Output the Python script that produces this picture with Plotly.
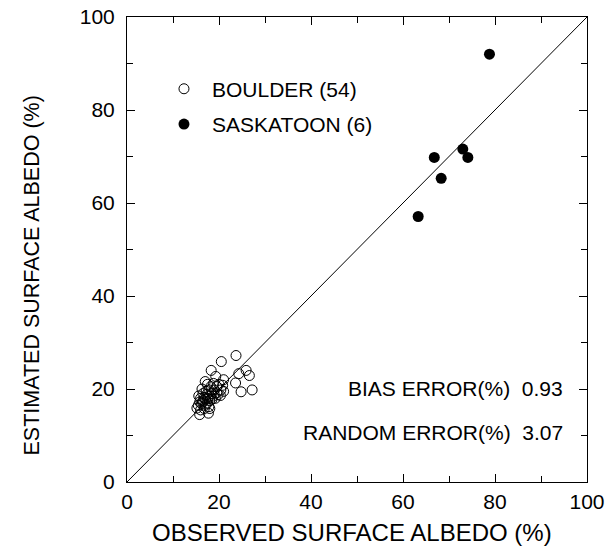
import plotly.graph_objects as go

# Boulder (54) observed vs estimated surface albedo (%)
boulder_obs = [23.7, 20.5, 18.3, 19.3, 21.0, 24.3, 25.9, 26.6, 23.6, 24.8, 27.2, 20.4, 17.0, 20.3, 17.7, 15.8, 15.2,
               15.5, 15.8, 16.0, 16.2, 16.5, 16.5, 16.8, 17.0, 17.0, 17.2, 17.3, 17.5, 17.5, 17.8, 17.8, 18.0, 18.0,
               18.2, 18.5, 18.5, 18.8, 19.0, 19.2, 19.5, 19.8, 15.6, 16.0, 16.3, 16.8, 17.5, 18.0, 18.8, 19.5, 20.0,
               21.0, 20.8, 16.4]
boulder_est = [27.2, 25.9, 24.0, 22.7, 22.0, 23.3, 24.0, 22.9, 21.3, 19.4, 19.8, 19.8, 21.6, 18.6, 14.8, 14.5, 15.9,
               16.5, 17.2, 18.0, 16.8, 17.5, 19.0, 18.2, 16.5, 17.8, 19.5, 18.8, 17.0, 18.0, 16.2, 19.8, 18.5, 17.5,
               20.5, 19.0, 17.8, 18.5, 19.8, 18.0, 19.2, 18.8, 18.5, 15.5, 20.0, 15.8, 21.0, 15.8, 21.2, 20.5, 21.0,
               19.5, 20.8, 17.2]

# Saskatoon (6)
sask_obs = [78.8, 66.8, 73.0, 74.1, 68.3, 63.3]
sask_est = [92.0, 69.8, 71.6, 69.8, 65.3, 57.1]

# 1:1 line
line_xy = [0, 100]

bias_error = 0.93
random_error = 3.07

FONT = "Liberation Sans, Arial, sans-serif"

fig = go.Figure()
fig.add_trace(go.Scatter(x=line_xy, y=line_xy, mode="lines", line=dict(color="black", width=1),
                         showlegend=False, hoverinfo="skip"))
fig.add_trace(go.Scatter(x=boulder_obs, y=boulder_est, mode="markers", name="BOULDER (54)",
                         legendgroup="b",
                         marker=dict(symbol="circle-open", size=10, color="black", line=dict(width=1))))
fig.add_trace(go.Scatter(x=sask_obs, y=sask_est, mode="markers", name="SASKATOON (6)",
                         legendgroup="s",
                         marker=dict(symbol="circle", size=11, color="black")))

axis_common = dict(range=[0, 100], dtick=20, ticks="inside", ticklen=8, tickwidth=1, tickcolor="black",
                   showline=True, linecolor="black", linewidth=1, mirror="allticks", showgrid=False,
                   zeroline=False, automargin=False, tickfont=dict(size=21, color="black", family=FONT),
                   minor=dict(dtick=10, ticks="inside", ticklen=6, tickcolor="black", showgrid=False))
fig.update_xaxes(**axis_common, ticklabelstandoff=1)
fig.update_yaxes(**axis_common, ticklabelstandoff=7)

fig.update_layout(
    width=615, height=560,
    margin=dict(l=127, r=28, t=17, b=78),
    paper_bgcolor="white", plot_bgcolor="white",
    font=dict(family=FONT, color="black"),
    legend=dict(x=0.063, y=0.889, xanchor="left", yanchor="top", bgcolor="rgba(0,0,0,0)",
                font=dict(size=21, family=FONT), tracegroupgap=5, itemwidth=46),
    annotations=[
        dict(text="ESTIMATED SURFACE ALBEDO (%)", textangle=-90, xref="paper", yref="paper",
             x=-0.236, y=0.445, showarrow=False, font=dict(size=21.5, family=FONT)),
        dict(text="OBSERVED SURFACE ALBEDO (%)", xref="paper", yref="paper",
             x=0.49, y=-0.142, showarrow=False, font=dict(size=24, family=FONT)),
        dict(text=f"BIAS ERROR(%)  {bias_error:.2f}", xref="paper", yref="paper",
             x=0.952, y=0.172, xanchor="right", showarrow=False, font=dict(size=21, family=FONT)),
        dict(text=f"RANDOM ERROR(%)  {random_error:.2f}", xref="paper", yref="paper",
             x=0.952, y=0.077, xanchor="right", showarrow=False, font=dict(size=21, family=FONT)),
    ],
)

fig.write_html("out.html")
